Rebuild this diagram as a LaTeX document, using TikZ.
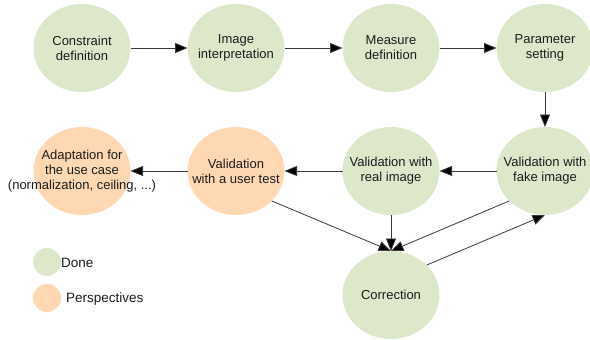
\documentclass[tikz,border=0pt]{standalone}
\usepackage{fontspec}
\setmainfont{Liberation Sans}
\usetikzlibrary{arrows.meta,shapes.geometric}
\definecolor{donefill}{HTML}{DDE8CB}
\definecolor{perspfill}{HTML}{FFD8B3}
\definecolor{txt}{HTML}{1C1C1C}
\definecolor{edge}{HTML}{3A3A3A}
\tikzset{
  stage/.style={ellipse, minimum width=97pt, minimum height=88pt, inner sep=0pt, outer sep=0pt},
  stagetext/.style={align=center, text=txt, font=\fontsize{13}{15}\selectfont, inner sep=0pt},
  donenode/.style={stage, fill=donefill},
  perspnode/.style={stage, fill=perspfill},
  conn/.style={draw=edge, line width=0.8pt, -{Triangle[length=12.5pt,width=10pt,fill=black]}},
  legdot/.style={circle, minimum size=28pt, inner sep=0pt},
  legtext/.style={anchor=west, text=txt, font=\fontsize{13.5}{15}\selectfont, inner sep=0pt}
}
\begin{document}
\begin{tikzpicture}[x=1pt,y=-1pt]
\useasboundingbox (0,0) rectangle (590,340);
\node[donenode] (cons) at (82,48) {};
\node[stagetext] (consT) at (cons.center) {Constraint\\definition};
\node[donenode] (interp) at (236,48) {};
\node[stagetext] (interpT) at (interp.center) {Image\\interpretation};
\node[donenode] (meas) at (391,48) {};
\node[stagetext] (measT) at (meas.center) {Measure\\definition};
\node[donenode] (param) at (545,48) {};
\node[stagetext] (paramT) at (param.center) {Parameter\\setting};
\node[donenode] (fake) at (545,171) {};
\node[stagetext] (fakeT) at (fake.center) {Validation with\\fake image};
\node[donenode] (real) at (391,171) {};
\node[stagetext] (realT) at (real.center) {Validation with\\real image};
\node[perspnode] (user) at (236,171) {};
\node[stagetext] (userT) at (user.center) {Validation\\with a user test};
\node[perspnode] (adapt) at (82,171) {};
\node[stagetext] (adaptT) at (adapt.center) {Adaptation for\\the use case\\(normalization, ceiling, ...)};
\node[donenode] (corr) at (391,295) {};
\node[stagetext] (corrT) at (corr.center) {Correction};
\node[legdot, fill=donefill] (ldone) at (47,262) {};
\node[legdot, fill=perspfill] (lpersp) at (47,298) {};
\node[legtext] (tdone) at (61,263) {Done};
\node[legtext] (tpersp) at (66,299) {Perspectives};
\draw[conn] (cons) -- (interp);
\draw[conn] (interp) -- (meas);
\draw[conn] (meas) -- (param);
\draw[conn] (param) -- (fake);
\draw[conn] (fake) -- (real);
\draw[conn] (real) -- (user);
\draw[conn] (user) -- (adapt);
\draw[conn] (user.-40) -- (corr.north);
\draw[conn] (real) -- (corr.north);
\draw[conn] (fake.220) -- (corr.north);
\draw[conn] (corr.40) -- (fake.south);
\end{tikzpicture}
\end{document}
